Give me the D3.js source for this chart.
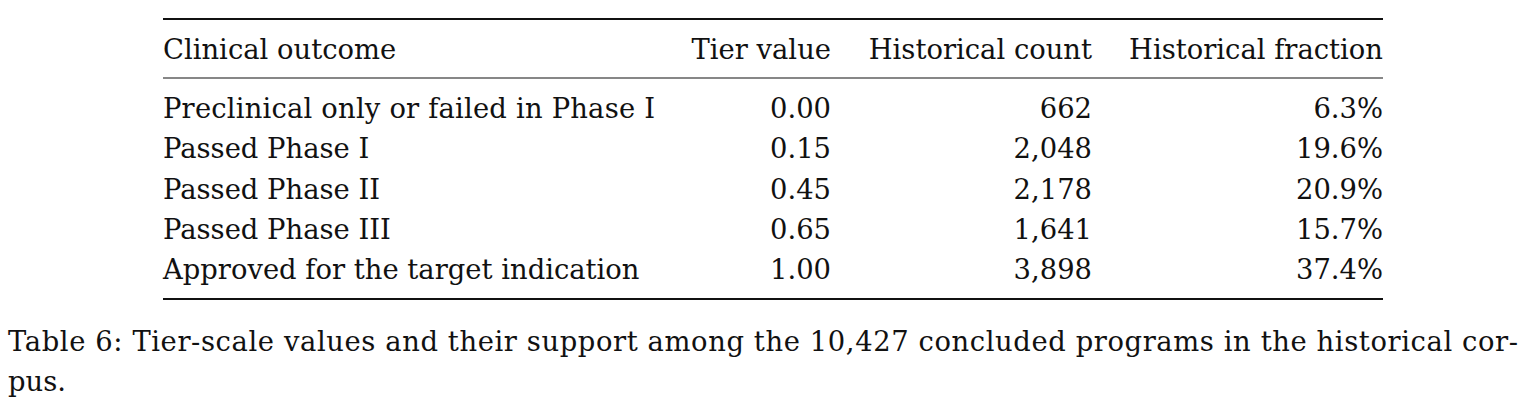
<!DOCTYPE html>
<html><head><meta charset="utf-8">
<script src="https://cdn.jsdelivr.net/npm/d3@7"></script>
<style>body{margin:0;background:#fff}svg{display:block}text{font-family:"DejaVu Serif",serif;fill:#111}</style>
</head><body>
<script>
const headers = ["Clinical outcome", "Tier value", "Historical count", "Historical fraction"];
const outcomes = ["Preclinical only or failed in Phase I", "Passed Phase I", "Passed Phase II", "Passed Phase III", "Approved for the target indication"];
const tierValues = [0.00, 0.15, 0.45, 0.65, 1.00];
const counts = [662, 2048, 2178, 1641, 3898];
const fractions = [6.3, 19.6, 20.9, 15.7, 37.4];
const captionLines = ["Table 6: Tier-scale values and their support among the 10,427 concluded programs in the historical cor-", "pus."];

const W = 1532, H = 417, fs = 27.4;
const svg = d3.select("body").append("svg").attr("width", W).attr("height", H);

const left = 163, right = 1383;
const colRight = [null, 831, 1092, 1383];
const y = d3.scalePoint().domain(d3.range(outcomes.length)).range([118, 279]);

svg.append("line").attr("x1", left).attr("x2", right).attr("y1", 19).attr("y2", 19).attr("stroke", "#111").attr("stroke-width", 2.2);
svg.append("line").attr("x1", left).attr("x2", right).attr("y1", 78).attr("y2", 78).attr("stroke", "#111").attr("stroke-width", 1.2);
svg.append("line").attr("x1", left).attr("x2", right).attr("y1", 299).attr("y2", 299).attr("stroke", "#111").attr("stroke-width", 2.2);

headers.forEach((h, i) => {
  svg.append("text").attr("x", i === 0 ? left : colRight[i]).attr("y", 59)
    .attr("text-anchor", i === 0 ? "start" : "end").attr("font-size", fs).text(h);
});

const fmt = d3.format(",");
const rows = outcomes.map((o, i) => [o, tierValues[i].toFixed(2), fmt(counts[i]), fractions[i].toFixed(1) + "%"]);
rows.forEach((r, i) => {
  r.forEach((c, j) => {
    const el = svg.append("text").attr("x", j === 0 ? left : colRight[j]).attr("y", y(i))
      .attr("text-anchor", j === 0 ? "start" : "end").attr("font-size", fs).text(c);
    if (i === 0 && j === 0) el.attr("textLength", 492).attr("lengthAdjust", "spacing");
  });
});

captionLines.forEach((t, i) => {
  const el = svg.append("text").attr("x", 8).attr("y", 351 + i * 40).attr("font-size", fs).text(t);
  if (i === 0) el.attr("textLength", 1510).attr("lengthAdjust", "spacing");
});
</script>
</body></html>
